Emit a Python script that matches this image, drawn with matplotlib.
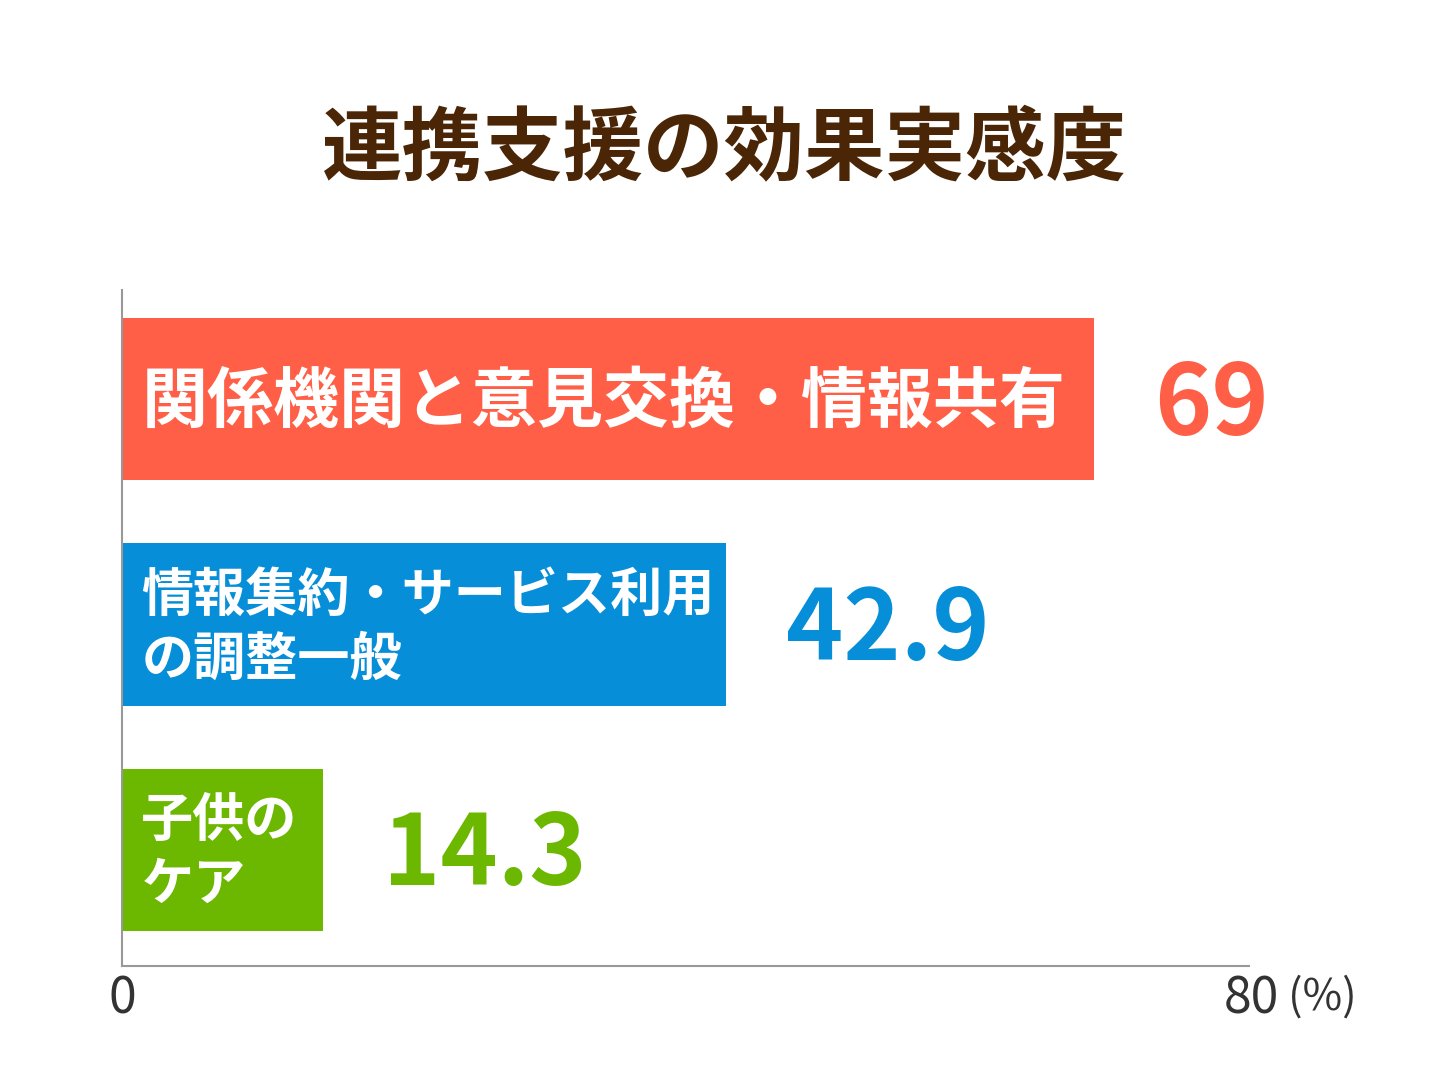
import matplotlib
matplotlib.use('Agg')
import matplotlib.pyplot as plt

plt.rcParams['font.family'] = ['Noto Sans CJK JP', 'DejaVu Sans']

# data
labels = ['関係機関と意見交換・情報共有', '情報集約・サービス利用\nの調整一般', '子供の\nケア']
values = [69, 42.9, 14.3]
value_texts = ['69', '42.9', '14.3']
colors = ['#FF5F46', '#068ED8', '#6CB800']
label_sizes = [47.5, 37.5, 37.5]

fig = plt.figure(figsize=(14.52, 10.89), dpi=100)
ax = fig.add_axes([122 / 1452, 1 - 966 / 1089, 1127 / 1452, 676 / 1089])

pos = [2, 1, 0]
ax.barh(pos, values, height=0.72, color=colors)
ax.set_xlim(0, 80)
ax.set_ylim(-0.516, 2.484)

for p, v, t, c, lab, fs in zip(pos, values, value_texts, colors, labels, label_sizes):
    ax.annotate(t, (v, p), xytext=(43, -5), textcoords='offset points',
                ha='left', va='center', fontsize=70, fontweight='bold', color=c)
    ax.annotate(lab, (0, p), xytext=(14, -2), textcoords='offset points',
                ha='left', va='center', fontsize=fs, fontweight='bold', color='white',
                linespacing=1.25)

for s in ['top', 'right']:
    ax.spines[s].set_visible(False)
for s in ['left', 'bottom']:
    ax.spines[s].set_color('#999999')
    ax.spines[s].set_linewidth(1.5)
ax.set_xticks([])
ax.set_yticks([])

# axis labels
fig.text(122 / 1452, 1 - 1000 / 1089, '0', ha='center', va='center', fontsize=36, color='#333333')
fig.text(1279 / 1452, 1 - 1000 / 1089, '80', ha='right', va='center', fontsize=36, color='#333333')
fig.text(1288 / 1452, 1 - 998 / 1089, '(%)', ha='left', va='center', fontsize=31, color='#333333')

fig.text(724 / 1452, 1 - 151 / 1089, '連携支援の効果実感度', ha='center', va='center',
         fontsize=58, fontweight='bold', color='#4A2506')

fig.savefig('out.png', dpi=100, facecolor='white')
